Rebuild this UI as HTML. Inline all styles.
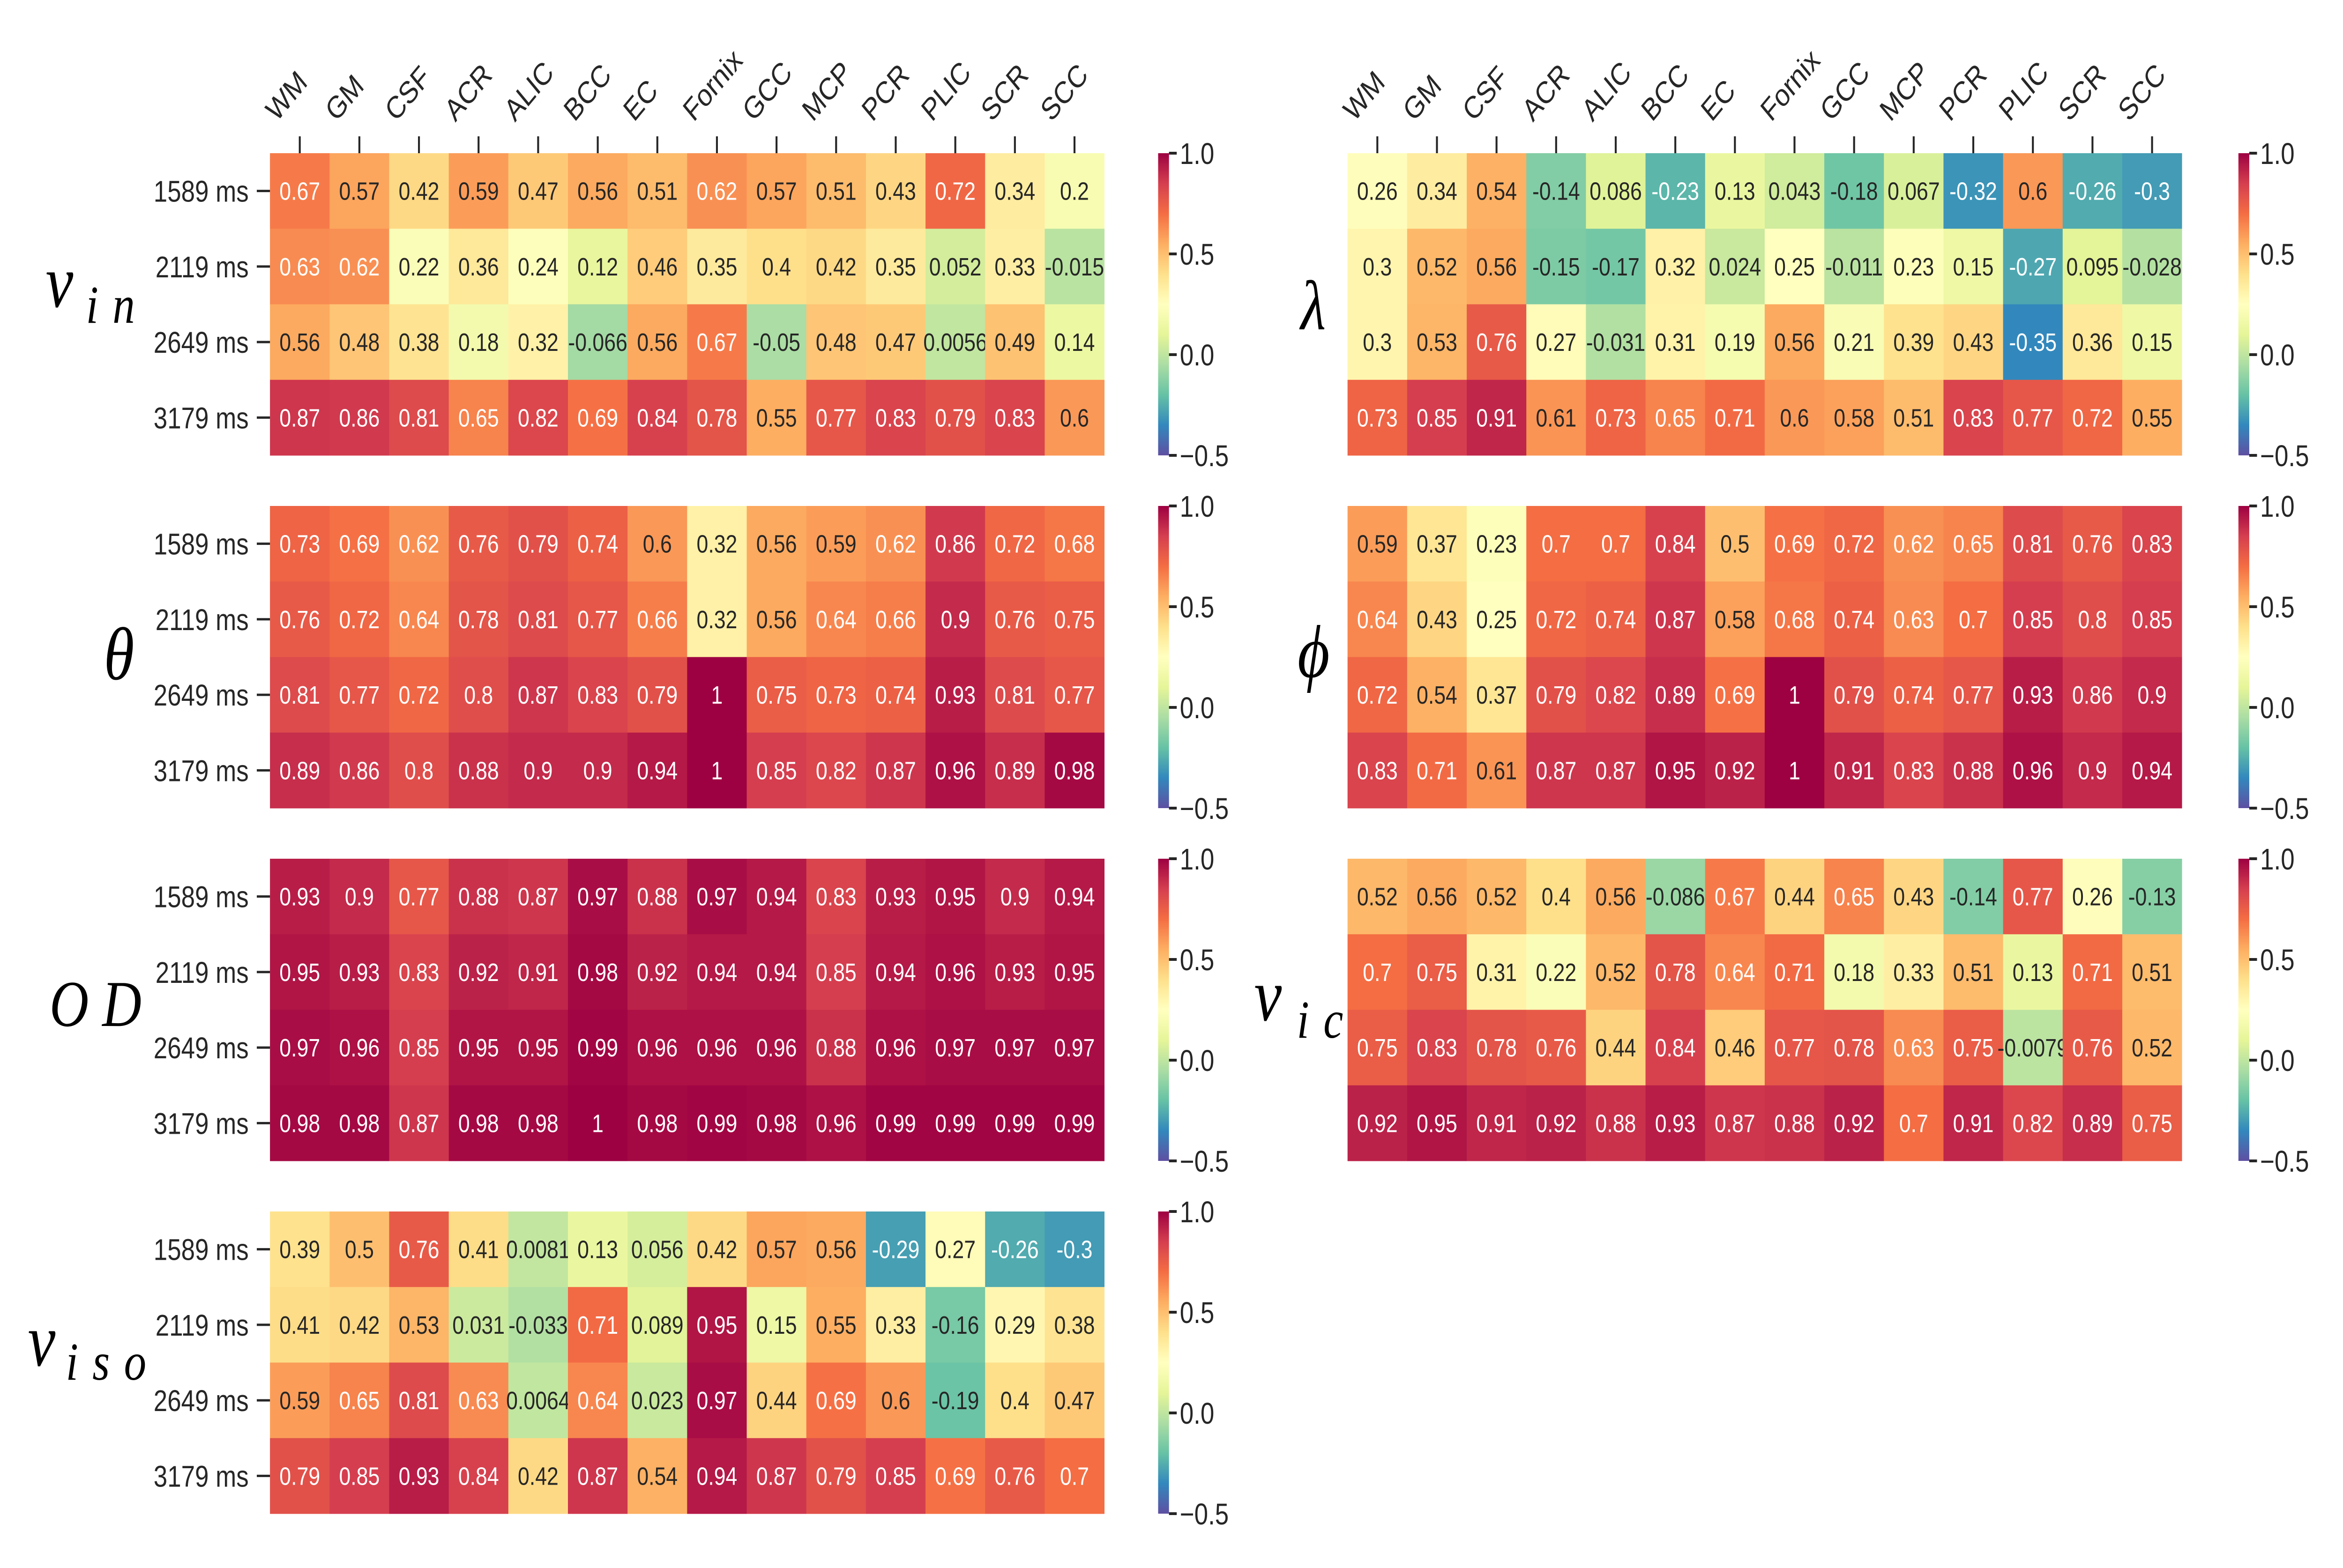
<!DOCTYPE html>
<html><head><meta charset="utf-8"><style>
html,body{margin:0;padding:0;background:#fff;width:100vw;height:100vh;overflow:hidden}
svg{display:block;position:absolute;left:0;top:0;width:100vw;height:100vh}
</style></head><body>
<svg id="fig" viewBox="0 0 6049 3347" preserveAspectRatio="none" xmlns="http://www.w3.org/2000/svg" overflow="hidden">
<rect width="6049" height="3347" fill="#fff"/>
</svg>
<script>
const regions = ["WM","GM","CSF","ACR","ALIC","BCC","EC","Fornix","GCC","MCP","PCR","PLIC","SCR","SCC"];
const times = ["1589 ms","2119 ms","2649 ms","3179 ms"];
const cbarTicks = [1.0, 0.5, 0.0, -0.5];
const cbarTickLabels = ["1.0","0.5","0.0","\u22120.5"];
const vin = [
[0.67,0.57,0.42,0.59,0.47,0.56,0.51,0.62,0.57,0.51,0.43,0.72,0.34,0.2],
[0.63,0.62,0.22,0.36,0.24,0.12,0.46,0.35,0.4,0.42,0.35,0.052,0.33,-0.015],
[0.56,0.48,0.38,0.18,0.32,-0.066,0.56,0.67,-0.05,0.48,0.47,0.0056,0.49,0.14],
[0.87,0.86,0.81,0.65,0.82,0.69,0.84,0.78,0.55,0.77,0.83,0.79,0.83,0.6]];
const theta = [
[0.73,0.69,0.62,0.76,0.79,0.74,0.6,0.32,0.56,0.59,0.62,0.86,0.72,0.68],
[0.76,0.72,0.64,0.78,0.81,0.77,0.66,0.32,0.56,0.64,0.66,0.9,0.76,0.75],
[0.81,0.77,0.72,0.8,0.87,0.83,0.79,1,0.75,0.73,0.74,0.93,0.81,0.77],
[0.89,0.86,0.8,0.88,0.9,0.9,0.94,1,0.85,0.82,0.87,0.96,0.89,0.98]];
const od = [
[0.93,0.9,0.77,0.88,0.87,0.97,0.88,0.97,0.94,0.83,0.93,0.95,0.9,0.94],
[0.95,0.93,0.83,0.92,0.91,0.98,0.92,0.94,0.94,0.85,0.94,0.96,0.93,0.95],
[0.97,0.96,0.85,0.95,0.95,0.99,0.96,0.96,0.96,0.88,0.96,0.97,0.97,0.97],
[0.98,0.98,0.87,0.98,0.98,1,0.98,0.99,0.98,0.96,0.99,0.99,0.99,0.99]];
const viso = [
[0.39,0.5,0.76,0.41,0.0081,0.13,0.056,0.42,0.57,0.56,-0.29,0.27,-0.26,-0.3],
[0.41,0.42,0.53,0.031,-0.033,0.71,0.089,0.95,0.15,0.55,0.33,-0.16,0.29,0.38],
[0.59,0.65,0.81,0.63,0.0064,0.64,0.023,0.97,0.44,0.69,0.6,-0.19,0.4,0.47],
[0.79,0.85,0.93,0.84,0.42,0.87,0.54,0.94,0.87,0.79,0.85,0.69,0.76,0.7]];
const lambda = [
[0.26,0.34,0.54,-0.14,0.086,-0.23,0.13,0.043,-0.18,0.067,-0.32,0.6,-0.26,-0.3],
[0.3,0.52,0.56,-0.15,-0.17,0.32,0.024,0.25,-0.011,0.23,0.15,-0.27,0.095,-0.028],
[0.3,0.53,0.76,0.27,-0.031,0.31,0.19,0.56,0.21,0.39,0.43,-0.35,0.36,0.15],
[0.73,0.85,0.91,0.61,0.73,0.65,0.71,0.6,0.58,0.51,0.83,0.77,0.72,0.55]];
const phi = [
[0.59,0.37,0.23,0.7,0.7,0.84,0.5,0.69,0.72,0.62,0.65,0.81,0.76,0.83],
[0.64,0.43,0.25,0.72,0.74,0.87,0.58,0.68,0.74,0.63,0.7,0.85,0.8,0.85],
[0.72,0.54,0.37,0.79,0.82,0.89,0.69,1,0.79,0.74,0.77,0.93,0.86,0.9],
[0.83,0.71,0.61,0.87,0.87,0.95,0.92,1,0.91,0.83,0.88,0.96,0.9,0.94]];
const vic = [
[0.52,0.56,0.52,0.4,0.56,-0.086,0.67,0.44,0.65,0.43,-0.14,0.77,0.26,-0.13],
[0.7,0.75,0.31,0.22,0.52,0.78,0.64,0.71,0.18,0.33,0.51,0.13,0.71,0.51],
[0.75,0.83,0.78,0.76,0.44,0.84,0.46,0.77,0.78,0.63,0.75,-0.0079,0.76,0.52],
[0.92,0.95,0.91,0.92,0.88,0.93,0.87,0.88,0.92,0.7,0.91,0.82,0.89,0.75]];

const VMIN=-0.5, VMAX=1.0;
const spectral=["#9e0142","#d53e4f","#f46d43","#fdae61","#fee08b","#ffffbf","#e6f598","#abdda4","#66c2a5","#3288bd","#5e4fa2"];
function hex2rgb(h){return [parseInt(h.slice(1,3),16),parseInt(h.slice(3,5),16),parseInt(h.slice(5,7),16)];}
function cmap(v){
  let t=(v-VMIN)/(VMAX-VMIN); t=Math.max(0,Math.min(1,t));
  let s=(1-t)*10; let i=Math.min(9,Math.floor(s)); let f=s-i;
  const a=hex2rgb(spectral[i]), b=hex2rgb(spectral[i+1]);
  return a.map((x,k)=>Math.round(x+(b[k]-x)*f));
}
function lum(rgb){
  const c=rgb.map(x=>{x/=255;return x<=0.03928?x/12.92:Math.pow((x+0.055)/1.055,2.4);});
  return 0.2126*c[0]+0.7152*c[1]+0.0722*c[2];
}
const NS="http://www.w3.org/2000/svg";
const svg=document.getElementById('fig');
function mk(tag,attrs,parent){const e=document.createElementNS(NS,tag);for(const k in attrs)e.setAttribute(k,attrs[k]);(parent||svg).appendChild(e);return e;}

const W=2154, H=645;
function drawPanel(data,x0,y0,opts){
  const g=mk('g',{});
  
  
  const cw=W/regions.length, rh=H/times.length;
  const xs=i=>x0+i*cw, ys=j=>y0+j*rh;
  data.forEach((row,j)=>row.forEach((v,i)=>{
    const c=cmap(v);
    const r=mk('rect',{x:xs(i),y:ys(j),width:cw+0.5,height:rh+0.5,fill:`rgb(${c[0]},${c[1]},${c[2]})`},g);
    
    
    const t=mk('text',{x:xs(i)+cw/2,y:ys(j)+rh/2+19,'text-anchor':'middle','font-family':'Liberation Sans, sans-serif','font-size':54,fill:lum(c)>0.408?'#262626':'#ffffff'},g);
    t.textContent=String(v);
    
    
  }));
  if(opts.rowLabels){
    times.forEach((lab,j)=>{
      const cy=ys(j)+rh/2;
      mk('line',{x1:x0-34,x2:x0,y1:cy,y2:cy,stroke:'#262626','stroke-width':5},g);
      const t=mk('text',{x:x0-55,y:cy+23,'text-anchor':'end','font-family':'Liberation Sans, sans-serif','font-size':64,fill:'#262626'},g);
      t.textContent=lab;
      
      
    });
  }
  if(opts.colLabels){
    regions.forEach((lab,i)=>{
      const cx=xs(i)+cw/2;
      mk('line',{x1:cx,x2:cx,y1:y0-36,y2:y0,stroke:'#262626','stroke-width':5},g);
      const tx=cx-60, ty=262;
      const t=mk('text',{x:tx,y:ty,transform:`rotate(-45 ${tx} ${ty})`,'font-family':'Liberation Sans, sans-serif','font-size':66,fill:'#262626'},g);
      t.textContent=lab;
      
      
    });
  }
  const cbx=opts.cbx, gid='grad-'+opts.name;
  const defs=mk('defs',{},g);
  const lg=mk('linearGradient',{id:gid,x1:0,y1:0,x2:0,y2:1},defs);
  for(let k=0;k<=20;k++){const v=VMAX-(VMAX-VMIN)*k/20;const c=cmap(v);mk('stop',{offset:(k/20),'stop-color':`rgb(${c[0]},${c[1]},${c[2]})`},lg);}
  const cb=mk('rect',{x:cbx,y:y0,width:28,height:H,fill:`url(#${gid})`},g);
  
  
  const cy=v=>y0+(VMAX-v)/(VMAX-VMIN)*H;
  cbarTicks.forEach((v,k)=>{
    mk('line',{x1:cbx+28,x2:cbx+48,y1:cy(v),y2:cy(v),stroke:'#262626','stroke-width':6},g);
    const t=mk('text',{x:cbx+56,y:cy(v)+23,'font-family':'Liberation Sans, sans-serif','font-size':64,fill:'#262626'},g);
    t.textContent=cbarTickLabels[k];
    
    
  });
}
const tops=[327,1080,1833,2586];
drawPanel(vin,697,tops[0],{name:'v-in',rowLabels:true,colLabels:true,cbx:2990});
drawPanel(theta,697,tops[1],{name:'theta',rowLabels:true,cbx:2990});
drawPanel(od,697,tops[2],{name:'od',rowLabels:true,cbx:2990});
drawPanel(viso,697,tops[3],{name:'v-iso',rowLabels:true,cbx:2990});
drawPanel(lambda,3479,tops[0],{name:'lambda',colLabels:true,cbx:5779});
drawPanel(phi,3479,tops[1],{name:'phi',cbx:5779});
drawPanel(vic,3479,tops[2],{name:'v-ic',cbx:5779});

function label(name,parts){
  const t=mk('text',{'font-family':'Liberation Serif, DejaVu Serif, serif','font-style':'italic',fill:'#000'});
  
  
  parts.forEach(p=>{const s=mk('tspan',{x:p.x,y:p.y,'font-size':p.fs,'letter-spacing':p.ls||0},t);s.textContent=p.s;});
}
label('v-in-label',[{s:'v',x:118,y:655,fs:160},{s:'i n',x:222,y:689,fs:115,ls:4}]);
label('theta-label',[{s:'θ',x:268,y:1450,fs:160}]);
label('od-label',[{s:'O D',x:128,y:2190,fs:140,ls:0}]);
label('v-iso-label',[{s:'v',x:72,y:2915,fs:160},{s:'i s o',x:170,y:2945,fs:115,ls:4}]);
label('lambda-label',[{s:'λ',x:3358,y:703,fs:150}]);
label('phi-label',[{s:'ϕ',x:3350,y:1445,fs:160}]);
label('v-ic-label',[{s:'v',x:3238,y:2178,fs:160},{s:'i c',x:3348,y:2215,fs:115,ls:4}]);
</script>
</body></html>
